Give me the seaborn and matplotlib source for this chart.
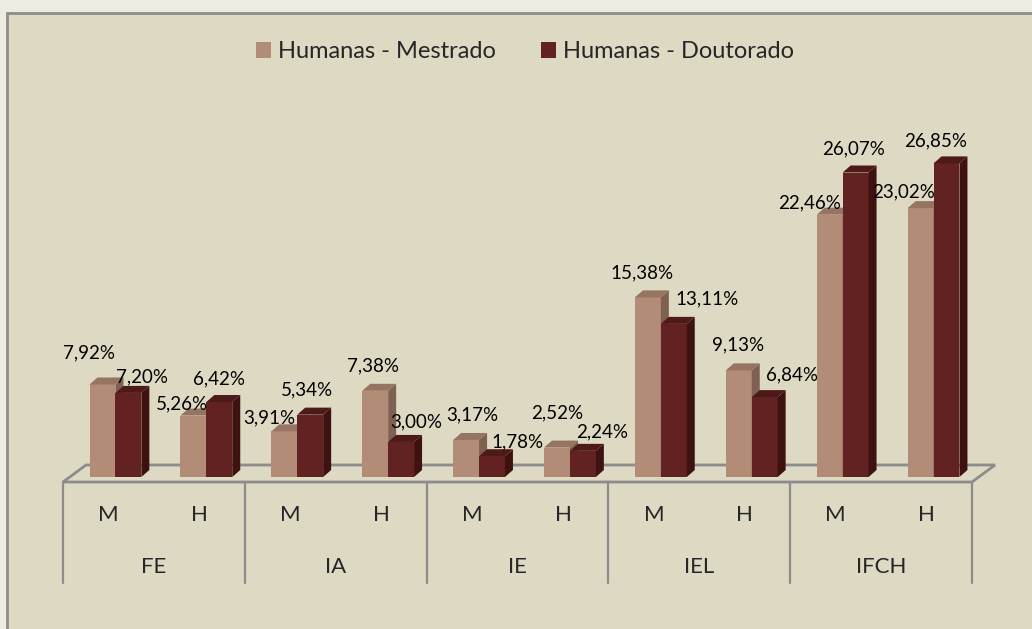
import numpy as np
import pandas as pd
import matplotlib
matplotlib.use("Agg")
import matplotlib.pyplot as plt
from matplotlib.patches import Polygon, Rectangle
import seaborn as sns

# chart values (percent)
institutos = ["FE", "IA", "IE", "IEL", "IFCH"]
niveis = ["M", "H"]
series = ["Humanas - Mestrado", "Humanas - Doutorado"]
mestrado = [7.92, 5.26, 3.91, 7.38, 3.17, 2.52, 15.38, 9.13, 22.46, 23.02]
doutorado = [7.20, 6.42, 5.34, 3.00, 1.78, 2.24, 13.11, 6.84, 26.07, 26.85]

# label nudges (pixels from top-centre of the front face), as Excel placed them
off_m = [(-13, 32), (-11, 12), (-15, 13), (-2, 25), (6, 25), (0, 35), (-6, 24), (-1, 25), (-20, 12), (-17, 16)]
off_d = [(14, 16), (0, 23), (-3, 25), (15, 20), (25, 14), (19, 19), (33, 25), (27, 22), (-2, 24), (-11, 23)]

front = ["#B38C77", "#632222"]
top = ["#957461", "#4E1919"]
side = ["#7F6153", "#3F1212"]
grid_c = "#8C8C8C"

W, H = 1032, 629
base_px = 477          # pixel row of bar bottoms
px_per_unit = 11.68

sns.set_theme(style="white")
plt.rcParams["font.family"] = ["Lato", "DejaVu Sans"]

cats = [f"{i}-{n}" for i in institutos for n in niveis]
df = pd.DataFrame({
    "cat": cats * 2,
    "serie": [series[0]] * len(cats) + [series[1]] * len(cats),
    "valor": mestrado + doutorado,
})

fig = plt.figure(figsize=(W / 100, H / 100), dpi=100)
fig.patch.set_facecolor("#EEECE1")

# background layer in pixel coordinates (origin top-left)
bg = fig.add_axes([0, 0, 1, 1], zorder=0)
bg.set_xlim(0, W)
bg.set_ylim(H, 0)
bg.axis("off")
bg.add_patch(Rectangle((7, 13), W + 50, H + 50, fc="#DDD9C3", ec=grid_c, lw=2))

ax_h = 397
ax = fig.add_axes([70 / W, (H - base_px) / H, 909 / W, ax_h / H], zorder=1)
ax.patch.set_alpha(0)

sns.barplot(data=df, x="cat", y="valor", hue="serie", order=cats, hue_order=series,
            palette=front, width=0.57, saturation=1, ax=ax, edgecolor="none")
ax.set_xlim(-0.5, len(cats) - 0.5)
ax.set_ylim(0, ax_h / px_per_unit)
ax.set_xlabel("")
ax.set_ylabel("")
ax.set_xticks([])
ax.set_yticks([])
sns.despine(ax=ax, left=True, bottom=True)

fig.canvas.draw()
to_px = bg.transData.inverted()
to_data = ax.transData.inverted()


def px(x, y):
    return to_px.transform(ax.transData.transform((x, y)))


# 3D floor and category table
x_lo, _ = px(-0.5, 0)
x_hi, y0 = px(len(cats) - 0.5, 0)
floor = [(x_lo - 7, y0 + 5), (x_hi - 7, y0 + 5), (x_hi + 16, y0 - 12), (x_lo + 16, y0 - 12)]
bg.add_patch(Polygon(floor, closed=True, fc="#DDD9C3", ec=grid_c, lw=2))
for k in range(len(institutos) + 1):
    xv, _ = px(-0.5 + 2 * k, 0)
    bg.plot([xv - 7, xv - 7], [y0 + 5, 583], color=grid_c, lw=1.6)
for i, c in enumerate(cats):
    xv, _ = px(i, 0)
    bg.text(xv - 7, 515, c.split("-")[1], ha="center", va="center", fontsize=16)
for k, inst in enumerate(institutos):
    xv, _ = px(2 * k + 0.5, 0)
    bg.text(xv - 7, 567, inst, ha="center", va="center", fontsize=16)

# depth faces for every bar; the Doutorado bars sit in front of the Mestrado side faces
dx, dy = 8, 7
for s, cont in enumerate(ax.containers):
    offs = off_m if s == 0 else off_d
    z = 2 + 2 * s
    for j, bar in enumerate(cont.patches):
        bar.set_zorder(z)
        x0 = bar.get_x()
        x1 = x0 + bar.get_width()
        h = bar.get_height()
        d10 = ax.transData.transform((x1, 0))
        d0h = ax.transData.transform((x0, h))
        d1h = ax.transData.transform((x1, h))
        sh = np.array([dx, dy])
        top_face = to_data.transform([d0h, d1h, d1h + sh, d0h + sh])
        side_face = to_data.transform([d10, d1h, d1h + sh, d10 + sh])
        ax.add_patch(Polygon(side_face, closed=True, fc=side[s], ec="none", clip_on=False, zorder=z + 1))
        ax.add_patch(Polygon(top_face, closed=True, fc=top[s], ec="none", clip_on=False, zorder=z + 1))
        lab = f"{h:.2f}".replace(".", ",") + "%"
        ax.annotate(lab, xy=((x0 + x1) / 2, h), xytext=offs[j], textcoords="offset pixels",
                    ha="center", va="center", fontsize=13.5, color="black", annotation_clip=False,
                    zorder=10)

sns.move_legend(ax, loc="center", bbox_to_anchor=(525 / W, 1 - 52 / H), bbox_transform=fig.transFigure,
                ncol=2, frameon=False, title=None, fontsize=17, handlelength=0.65, handleheight=0.65,
                handletextpad=0.3, columnspacing=1.9)

fig.savefig("out.png", dpi=100, facecolor=fig.get_facecolor())
